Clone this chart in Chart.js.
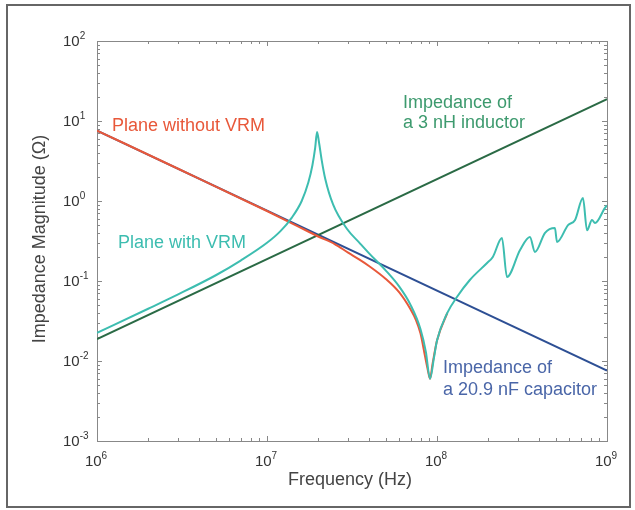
<!DOCTYPE html>
<html>
<head>
<meta charset="utf-8">
<script src="https://cdn.jsdelivr.net/npm/chart.js@4.4.0/dist/chart.umd.min.js"></script>
<style>
  html, body { margin: 0; padding: 0; background: #fff; }
</style>
</head>
<body>
<canvas id="myChart" width="635" height="510"></canvas>
<script>
// values (frequency in Hz, impedance in ohms)
const lineFreq = [1e6, 1e9];
const inductorZ = [0.0188, 18.8];
const capacitorZ = [7.6, 0.0076];

const noVrmFreq = [1e6, 3e6, 1e7, 1.5e7, 2e7, 2.5e7, 3e7, 3.5e7, 4e7, 5e7, 6e7, 7e7, 7.5e7, 8e7, 8.5e7, 8.8e7, 9.1e7, 9.4e7, 1.0e8, 1.15e8];
const noVrmZ = [7.6, 2.53, 0.75, 0.49, 0.36, 0.29, 0.226, 0.185, 0.153, 0.106, 0.072, 0.044, 0.033, 0.022, 0.0115, 0.008, 0.006, 0.009, 0.018, 0.04];

const vrmFreq = [1e6, 2e6, 3e6, 5e6, 7e6, 1e7, 1.2e7, 1.4e7, 1.6e7, 1.75e7, 1.85e7, 1.92e7, 1.97e7, 2.02e7, 2.1e7, 2.2e7, 2.45e7, 2.95e7, 3.5e7, 4e7, 5e7, 6e7, 7e7, 8e7, 8.6e7, 9.1e7, 9.6e7, 1.0e8, 1.15e8, 1.31e8, 1.56e8, 1.97e8, 2.13e8, 2.41e8, 2.58e8, 3.08e8, 3.52e8, 3.77e8, 4.32e8, 4.94e8, 5.08e8, 5.9e8, 6.49e8, 7.22e8, 7.63e8, 8.16e8, 8.5e8, 9.73e8, 1e9];
const vrmZ = [0.0225, 0.045, 0.068, 0.118, 0.18, 0.30, 0.42, 0.62, 1.0, 1.7, 2.8, 4.6, 7.3, 5.5, 3.2, 1.9, 0.9, 0.45, 0.3, 0.22, 0.135, 0.085, 0.05, 0.025, 0.013, 0.006, 0.011, 0.018, 0.04, 0.063, 0.103, 0.168, 0.2, 0.345, 0.112, 0.244, 0.355, 0.23, 0.4, 0.46, 0.307, 0.5, 0.58, 1.09, 0.43, 0.58, 0.53, 0.82, 0.88];

const xDecades = [1e6, 1e7, 1e8, 1e9];
const yDecades = [1e-3, 1e-2, 1e-1, 1e0, 1e1, 1e2];

const FONT = "'Liberation Sans', Arial, sans-serif";

function toPoints(xs, ys) {
  return xs.map((x, i) => ({x: x, y: ys[i]}));
}

// draw "10" with a raised exponent
function drawPower(ctx, value, x, y, align) {
  const exp = String(Math.round(Math.log10(value)));
  ctx.font = '15px ' + FONT;
  const wBase = ctx.measureText('10').width;
  ctx.font = '10px ' + FONT;
  const wExp = ctx.measureText(exp).width;
  const x0 = align === 'center' ? x - (wBase + wExp) / 2 : x;
  ctx.textAlign = 'left';
  ctx.textBaseline = 'middle';
  ctx.font = '15px ' + FONT;
  ctx.fillText('10', x0, y);
  ctx.font = '10px ' + FONT;
  ctx.fillText(exp, x0 + wBase, y - 6);
}

const frame = {
  id: 'frame',
  beforeDatasetsDraw(chart) {
    const {ctx, chartArea: {top, bottom, left, right}, scales: {x, y}} = chart;
    ctx.save();
    // outer box
    ctx.strokeStyle = '#666';
    ctx.lineWidth = 2;
    ctx.strokeRect(7, 5, 623, 502);
    // plot box
    ctx.strokeStyle = '#888';
    ctx.lineWidth = 1;
    ctx.strokeRect(left + 0.5, top + 0.5, right - left, bottom - top);
    // inward ticks on all four sides
    ctx.beginPath();
    xDecades.forEach((d, i) => {
      for (let m = 1; m < 10; m++) {
        if (i === xDecades.length - 1 && m > 1) break;
        const px = Math.round(x.getPixelForValue(d * m)) + 0.5;
        const len = m === 1 ? 5 : 3;
        ctx.moveTo(px, bottom); ctx.lineTo(px, bottom - len);
        ctx.moveTo(px, top); ctx.lineTo(px, top + len);
      }
    });
    yDecades.forEach((d, i) => {
      for (let m = 1; m < 10; m++) {
        if (i === yDecades.length - 1 && m > 1) break;
        const py = Math.round(y.getPixelForValue(d * m)) + 0.5;
        const len = m === 1 ? 5 : 3;
        ctx.moveTo(left, py); ctx.lineTo(left + len, py);
        ctx.moveTo(right, py); ctx.lineTo(right - len, py);
      }
    });
    ctx.stroke();
    ctx.restore();
  },
  afterDatasetsDraw(chart) {
    const {ctx, chartArea: {top, bottom, left, right}, scales: {x, y}} = chart;
    ctx.save();
    ctx.fillStyle = '#333';
    xDecades.forEach(d => drawPower(ctx, d, x.getPixelForValue(d) - 1, 462, 'center'));
    yDecades.forEach(d => drawPower(ctx, d, 63, y.getPixelForValue(d) + 1, 'left'));

    // axis titles
    ctx.fillStyle = '#444';
    ctx.font = '18px ' + FONT;
    ctx.textAlign = 'center';
    ctx.textBaseline = 'middle';
    ctx.fillText('Frequency (Hz)', 350, 480);
    ctx.save();
    ctx.translate(40, 239);
    ctx.rotate(-Math.PI / 2);
    ctx.fillText('Impedance Magnitude (\u03A9)', 0, 0);
    ctx.restore();

    // curve labels
    ctx.textAlign = 'left';
    ctx.font = '18px ' + FONT;
    ctx.fillStyle = '#e8583a';
    ctx.fillText('Plane without VRM', 112, 126);
    ctx.fillStyle = '#3dbdb0';
    ctx.fillText('Plane with VRM', 118, 243);
    ctx.fillStyle = '#3d9a6e';
    ctx.fillText('Impedance of', 403, 103);
    ctx.fillText('a 3 nH inductor', 403, 123);
    ctx.fillStyle = '#4a66a8';
    ctx.fillText('Impedance of', 443, 368);
    ctx.fillText('a 20.9 nF capacitor', 443, 390);
    ctx.restore();
  }
};

const data = {
  datasets: [
    {label: 'Plane with VRM', data: toPoints(vrmFreq, vrmZ), borderColor: '#3dbdb0', cubicInterpolationMode: 'monotone'},
    {label: 'Plane without VRM', data: toPoints(noVrmFreq, noVrmZ), borderColor: '#e8583a', cubicInterpolationMode: 'monotone'},
    {label: 'Impedance of a 3 nH inductor', data: toPoints(lineFreq, inductorZ), borderColor: '#2a6a45'},
    {label: 'Impedance of a 20.9 nF capacitor', data: toPoints(lineFreq, capacitorZ), borderColor: '#2d4f94'}
  ]
};

const config = {
  type: 'line',
  data,
  options: {
    responsive: false,
    animation: false,
    devicePixelRatio: 1,
    layout: {padding: {left: 97, right: 28, top: 41, bottom: 69}},
    elements: {
      line: {borderWidth: 2, fill: false},
      point: {radius: 0}
    },
    scales: {
      x: {type: 'logarithmic', min: 1e6, max: 1e9, display: false},
      y: {type: 'logarithmic', min: 1e-3, max: 1e2, display: false}
    },
    plugins: {
      legend: {display: false},
      tooltip: {enabled: false}
    }
  },
  plugins: [frame]
};

const myChart = new Chart(document.getElementById('myChart'), config);
</script>
</body>
</html>
